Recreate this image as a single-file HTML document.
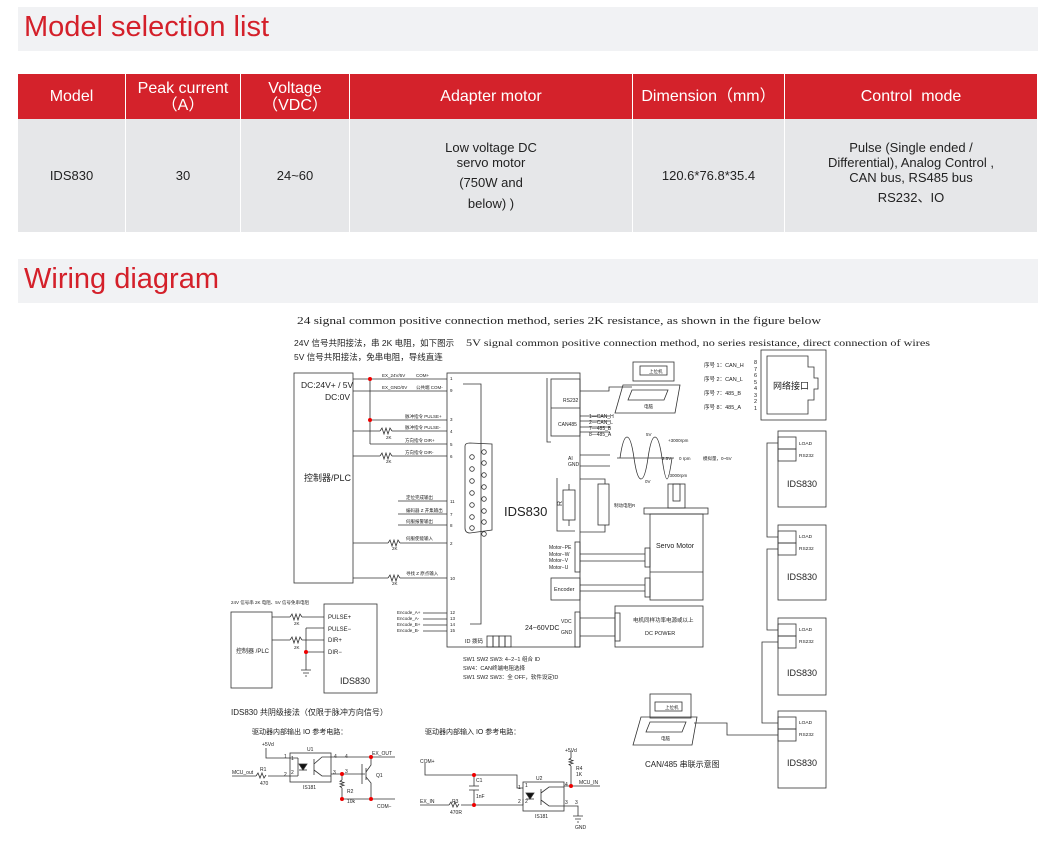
<!DOCTYPE html>
<html><head><meta charset="utf-8">
<style>
html,body{margin:0;padding:0;background:#fff;}
body{width:1050px;height:850px;overflow:hidden;position:relative;font-family:"Liberation Sans","Noto Sans CJK SC",sans-serif;}
.band{position:absolute;left:18px;width:1020px;height:44px;background:#f1f2f4;}
.band span{position:absolute;left:6px;top:4px;font-size:29px;color:#d4202a;}
table{position:absolute;left:18px;top:74px;border-collapse:collapse;width:1020px;}
th{background:#d4222b;color:#fff;font-weight:normal;font-size:16px;height:45px;border-right:1px solid #fff;line-height:17px;padding:0;}
td{background:#e6e7e9;font-size:13px;color:#222;height:113px;text-align:center;border-right:1px solid #fff;line-height:15px;padding:0;}
svg text{font-family:"Liberation Sans","Noto Sans CJK SC",sans-serif;fill:#222;}
</style></head><body>
<div class="band" style="top:7px"><span>Model selection list</span></div>
<table>
<tr><th style="width:107px">Model</th><th style="width:114px">Peak current<br>（A）</th><th style="width:108px">Voltage<br>（VDC）</th><th style="width:282px">Adapter motor</th><th style="width:151px">Dimension（mm）</th><th>Control&nbsp; mode</th></tr>
<tr><td>IDS830</td><td>30</td><td>24~60</td><td>Low voltage DC<br>servo motor<br><span style="line-height:26px">(750W and</span><br>below) )</td><td>120.6*76.8*35.4</td><td>Pulse (Single ended /<br>Differential), Analog Control ,<br>CAN bus, RS485 bus<br><span style="line-height:26px">RS232、IO</span></td></tr>
</table>
<div class="band" style="top:259px"><span>Wiring diagram</span></div>

<svg width="1050" height="850" style="position:absolute;left:0;top:0" fill="none" stroke="#333" stroke-width="0.8">
<g stroke="none">
<text x="297" y="324" font-size="10" textLength="524" lengthAdjust="spacingAndGlyphs" style="font-family:'Liberation Serif',serif">24 signal common positive connection method, series 2K resistance, as shown in the figure below</text>
<text x="294" y="346" font-size="8.5">24V 信号共阳接法，串 2K 电阻，如下图示</text>
<text x="294" y="360" font-size="8.5">5V 信号共阳接法，免串电阻，导线直连</text>
<text x="466" y="346" font-size="9.5" textLength="464" lengthAdjust="spacingAndGlyphs" style="font-family:'Liberation Serif',serif">5V signal common positive connection method, no series resistance, direct connection of wires</text>
</g>
<!-- controller -->
<rect x="294" y="373" width="59" height="210"/>
<g stroke="none" font-size="8.5"><text x="301" y="388">DC:24V+ / 5V</text><text x="325" y="400">DC:0V</text><text x="304" y="481" font-size="9">控制器/PLC</text></g>
<!-- main box -->
<rect x="447" y="373" width="133" height="274"/>
<g stroke="none"><text x="504" y="516" font-size="13">IDS830</text><text x="525" y="630" font-size="7">24~60VDC</text></g>
<path d="M353 379H447M353 391H447M370 420H447M353 431H380M392 431H447M370 444H447M353 456H380M392 456H447M398 501H447M398 514H447M398 525H447M353 543H388M400 543H447M353 578H388M400 578H447M370 379V444"/>
<path d="M380 431l2-3 2 6 2-6 2 6 2-6 2 3M380 456l2-3 2 6 2-6 2 6 2-6 2 3M388 543l2-3 2 6 2-6 2 6 2-6 2 3M388 578l2-3 2 6 2-6 2 6 2-6 2 3"/>
<g fill="#e00" stroke="none"><circle cx="370" cy="379" r="2"/><circle cx="370" cy="420" r="2"/></g>
<g stroke="none" font-size="4.5">
<text x="382" y="377">EX_24V/5V</text><text x="416" y="377">COM+</text><text x="382" y="389">EX_GND/0V</text><text x="416" y="389">公共端 COM-</text>
<text x="405" y="418">脉冲指令 PULSE+</text><text x="405" y="429">脉冲指令 PULSE-</text><text x="405" y="442">方向指令 DIR+</text><text x="405" y="454">方向指令 DIR-</text>
<text x="386" y="439">2K</text><text x="386" y="463">2K</text><text x="392" y="550">2K</text><text x="392" y="585">2K</text>
<text x="406" y="499">定位完成输出</text><text x="406" y="512">编码器 Z 开集输出</text><text x="406" y="523">伺服报警输出</text><text x="406" y="540">伺服使能输入</text><text x="406" y="575">寻找 Z 原点输入</text>
<text x="450" y="380">1</text><text x="450" y="392">9</text><text x="450" y="421">3</text><text x="450" y="433">4</text><text x="450" y="446">5</text><text x="450" y="458">6</text><text x="450" y="503">11</text><text x="450" y="516">7</text><text x="450" y="527">8</text><text x="450" y="545">2</text><text x="450" y="580">10</text>
<text x="450" y="614">12</text><text x="450" y="620">13</text><text x="450" y="626">14</text><text x="450" y="632">15</text>
<text x="397" y="614">Encode_A+</text><text x="397" y="620">Encode_A-</text><text x="397" y="626">Encode_B+</text><text x="397" y="632">Encode_B-</text>
</g>
<path d="M423 613H447M423 619H447M423 625H447M423 631H447M463 384H481V624H470"/>
<!-- DB connector -->
<path d="M465 446Q465 443 470 443L492 444V530L470 533Q465 533 465 528Z"/>
<g>
<circle cx="472" cy="457" r="2.3"/><circle cx="472" cy="469" r="2.3"/><circle cx="472" cy="481" r="2.3"/><circle cx="472" cy="493" r="2.3"/><circle cx="472" cy="505" r="2.3"/><circle cx="472" cy="517" r="2.3"/><circle cx="472" cy="528" r="2.3"/>
<circle cx="484" cy="452" r="2.3"/><circle cx="484" cy="463" r="2.3"/><circle cx="484" cy="475" r="2.3"/><circle cx="484" cy="487" r="2.3"/><circle cx="484" cy="499" r="2.3"/><circle cx="484" cy="511" r="2.3"/><circle cx="484" cy="522" r="2.3"/><circle cx="484" cy="534" r="2.3"/>
</g>
<!-- ID dip -->
<rect x="487" y="636" width="6" height="11"/><rect x="493" y="636" width="6" height="11"/><rect x="499" y="636" width="6" height="11"/><rect x="505" y="636" width="6" height="11"/>
<g stroke="none" font-size="5.5"><text x="465" y="643">ID 拨码</text></g>
<g stroke="none" font-size="5.5">
<text x="463" y="661">SW1  SW2  SW3: 4−2−1  组合 ID</text><text x="463" y="670">SW4：CAN终端电阻选择</text><text x="463" y="679">SW1 SW2 SW3：全 OFF，软件设定ID</text>
</g>
<!-- right panel -->
<rect x="551" y="379" width="29" height="57"/><line x1="551" y1="408" x2="580" y2="408"/>
<path d="M547 378V442H551"/>
<g stroke="none" font-size="5"><text x="563" y="402">RS232</text><text x="558" y="426">CAN485</text>
<text x="589" y="418">1—CAN_H</text><text x="589" y="424">2—CAN_L</text><text x="589" y="430">7—485_B</text><text x="589" y="436">8—485_A</text>
<text x="568" y="460">AI</text><text x="568" y="466">GND</text></g>
<path d="M580 416H610M580 421H610M580 427H610M580 432H610M580 455H610M580 466H610M580 391H609V387H632"/>
<!-- laptop 1 -->
<rect x="633" y="362" width="41" height="19"/><rect x="640" y="366" width="27" height="9"/>
<path d="M623 385H680L675 413H615Z"/><path d="M632 390H668L664 400H628Z"/>
<g stroke="none" font-size="4.5"><text x="649" y="373">上位机</text><text x="644" y="408">电脑</text></g>
<!-- 序号 -->
<g stroke="none" font-size="5.5"><text x="704" y="367">序号 1：CAN_H</text><text x="704" y="381">序号 2：CAN_L</text><text x="704" y="395">序号 7：485_B</text><text x="704" y="409">序号 8：485_A</text>
<text x="754" y="364">8</text><text x="754" y="371">7</text><text x="754" y="377">6</text><text x="754" y="384">5</text><text x="754" y="390">4</text><text x="754" y="397">3</text><text x="754" y="403">2</text><text x="754" y="410">1</text>
<text x="773" y="389" font-size="9">网络接口</text></g>
<rect x="761" y="350" width="65" height="70"/>
<path d="M767 356H808V367H814V378H818V389H814V400H808V414H767Z"/>
<!-- sine -->
<path d="M617 458H674M620 458C624 430 630 430 634 458S644 486 648 458 658 430 662 458 668 486 672 458"/>
<g stroke="none" font-size="4.5"><text x="646" y="436">5V</text><text x="668" y="442">+3000rpm</text><text x="662" y="460">2.5V</text><text x="679" y="460">0 rpm</text><text x="703" y="460">模拟量，0~5V</text><text x="668" y="477">-3000rpm</text><text x="645" y="483">0V</text></g>
<!-- resistors -->
<path d="M580 479H605V484M580 532H605V525M557 478V531H575"/>
<rect x="563" y="490" width="12" height="30"/><path d="M569 484V490M569 520V526"/>
<rect x="598" y="484" width="11" height="41"/>
<g stroke="none"><text x="560" y="508" font-size="7" transform="rotate(-90 560 506)">R</text><text x="614" y="507" font-size="4.5">制动电阻R</text></g>
<!-- motor -->
<rect x="668" y="484" width="17" height="24"/><rect x="673" y="484" width="7" height="17"/>
<rect x="644" y="508" width="64" height="6"/>
<rect x="650" y="514" width="53" height="86"/><line x1="650" y1="572" x2="703" y2="572"/>
<g stroke="none"><text x="656" y="548" font-size="7">Servo Motor</text></g>
<rect x="645" y="548" width="5" height="19"/><rect x="645" y="578" width="5" height="19"/>
<rect x="575" y="542" width="5" height="30"/>
<path d="M580 554H645M580 561H645M580 585H645M580 591H645"/>
<g stroke="none" font-size="5"><text x="549" y="549">Motor−PE</text><text x="549" y="556">Motor−W</text><text x="549" y="562">Motor−V</text><text x="549" y="569">Motor−U</text><text x="554" y="591" font-size="5.5">Encoder</text><text x="561" y="623">VDC</text><text x="561" y="634">GND</text></g>
<rect x="551" y="578" width="29" height="22"/>
<rect x="575" y="612" width="5" height="35"/>
<rect x="615" y="606" width="88" height="41"/><rect x="615" y="613" width="5" height="28"/>
<path d="M580 618H615M580 636H615"/>
<g stroke="none" font-size="5.5"><text x="633" y="622">电机同样功率电源或以上</text><text x="645" y="635">DC POWER</text></g>
<!-- chain boxes -->
<g>
<rect x="778" y="431" width="48" height="76"/><rect x="778" y="437" width="18" height="12"/><rect x="778" y="449" width="18" height="12"/>
<rect x="778" y="525" width="48" height="75"/><rect x="778" y="531" width="18" height="12"/><rect x="778" y="543" width="18" height="12"/>
<rect x="778" y="618" width="48" height="77"/><rect x="778" y="624" width="18" height="12"/><rect x="778" y="636" width="18" height="12"/>
<rect x="778" y="711" width="48" height="77"/><rect x="778" y="717" width="18" height="12"/><rect x="778" y="729" width="18" height="12"/>
</g>
<path d="M778 443H767V537H778M778 549H767V630H778M778 642H762V723H778"/>
<g stroke="none" font-size="4.8">
<text x="799" y="445">LOAD</text><text x="799" y="457">RS232</text><text x="799" y="538">LOAD</text><text x="799" y="550">RS232</text><text x="799" y="631">LOAD</text><text x="799" y="643">RS232</text><text x="799" y="724">LOAD</text><text x="799" y="736">RS232</text>
<text x="787" y="487" font-size="9">IDS830</text><text x="787" y="580" font-size="9">IDS830</text><text x="787" y="676" font-size="9">IDS830</text><text x="787" y="766" font-size="9">IDS830</text>
</g>
<!-- laptop 2 -->
<rect x="650" y="694" width="41" height="24"/><rect x="655" y="702" width="27" height="9"/>
<path d="M641 717H697L692 745H633Z"/><path d="M650 722H686L682 732H646Z"/>
<path d="M694 723H727V735H778"/>
<g stroke="none"><text x="665" y="709" font-size="4.5">上位机</text><text x="661" y="740" font-size="4.5">电脑</text><text x="645" y="767" font-size="8">CAN/485 串联示意图</text></g>
<!-- small wiring -->
<g stroke="none" font-size="4.5"><text x="231" y="604">24V 信号串 2K 电阻、5V 信号免串电阻</text></g>
<rect x="231" y="612" width="41" height="76"/><rect x="324" y="604" width="53" height="89"/>
<g stroke="none"><text x="236" y="653" font-size="6">控制器 /PLC</text><text x="340" y="684" font-size="9">IDS830</text>
<text x="328" y="619" font-size="6">PULSE+</text><text x="328" y="631" font-size="6">PULSE−</text><text x="328" y="642" font-size="6">DIR+</text><text x="328" y="654" font-size="6">DIR−</text>
<text x="294" y="625" font-size="4.5">2K</text><text x="294" y="649" font-size="4.5">2K</text></g>
<path d="M272 617H290M302 617H324M272 640H290M302 640H324M306 628H324M306 628V670M306 652H324M301 670H311M303 673H309M305 676H307"/>
<path d="M290 617l2-3 2 6 2-6 2 6 2-6 2 3M290 640l2-3 2 6 2-6 2 6 2-6 2 3"/>
<circle cx="306" cy="652" r="2" fill="#e00" stroke="none"/>
<!-- bottom texts -->
<g stroke="none"><text x="231" y="715" font-size="8">IDS830 共阴级接法（仅限于脉冲方向信号）</text>
<text x="252" y="734" font-size="7">驱动器内部输出 IO 参考电路：</text><text x="425" y="734" font-size="7">驱动器内部输入 IO 参考电路：</text></g>
<!-- output circuit -->
<rect x="290" y="753" width="41" height="29"/>
<path d="M266 748V758H298M232 776H256M268 776H298M256 776l2-3 2 5 2-5 2 5 2-3M298 758V776"/>
<path d="M299 764H307L303 770Z" fill="#111"/><path d="M299 770H307"/>
<path d="M314 759V775M314 764L322 757H331M314 770L322 776H331"/>
<path d="M331 757H371M331 774H342H362M342 774V780M342 788V799H371M342 780l-2 1.3 4 1.3-4 1.3 4 1.3-4 1.3 2 1.3M362 764V784M362 774H365M366 768V780M366 772L371 765V757M366 777L371 783V799M371 757H395M371 799H395"/>
<g fill="#e00" stroke="none"><circle cx="371" cy="757" r="2"/><circle cx="342" cy="774" r="2"/><circle cx="342" cy="799" r="2"/><circle cx="371" cy="799" r="2"/></g>
<g stroke="none" font-size="5"><text x="262" y="746">+5Vd</text><text x="307" y="751">U1</text><text x="284" y="758">1</text><text x="291" y="760">1</text><text x="334" y="758">4</text><text x="345" y="758">4</text><text x="284" y="776">2</text><text x="291" y="774">2</text><text x="333" y="774">3</text><text x="345" y="773">3</text>
<text x="232" y="774">MCU_out</text><text x="260" y="771">R1</text><text x="260" y="785">470</text><text x="303" y="789">IS181</text><text x="372" y="755">EX_OUT</text><text x="376" y="777">Q1</text><text x="347" y="793">R2</text><text x="347" y="803">10k</text><text x="377" y="808">COM−</text></g>
<!-- input circuit -->
<rect x="523" y="782" width="41" height="29"/>
<path d="M425 763V775H517V788H523M474 775V786M469 786H479M469 790H479M474 790V805M420 805H449M461 805H523M449 805l2-3 2 5 2-5 2 5 2-3M523 805V799"/>
<path d="M526 793H534L530 799Z" fill="#111"/><path d="M526 799H534"/>
<path d="M541 789V805M541 793L549 787H564M541 800L549 806H564"/>
<path d="M571 751V758M571 758l-2 1.3 4 1.3-4 1.3 4 1.3-4 1.3 2 1.3M571 766V786H564M571 786H600M564 806H578V816M573 816H583M575 819H581M577 822H579"/>
<g fill="#e00" stroke="none"><circle cx="474" cy="775" r="2"/><circle cx="474" cy="805" r="2"/><circle cx="571" cy="786" r="2"/></g>
<g stroke="none" font-size="5"><text x="420" y="763">COM+</text><text x="476" y="782">C1</text><text x="476" y="798">1nF</text><text x="420" y="803">EX_IN</text><text x="452" y="803">R3</text><text x="450" y="814">470R</text>
<text x="536" y="780">U2</text><text x="518" y="789">1</text><text x="525" y="787">1</text><text x="518" y="803">2</text><text x="525" y="803">2</text><text x="565" y="786">4</text><text x="565" y="804">3</text><text x="575" y="804">3</text>
<text x="565" y="752">+5Vd</text><text x="576" y="770">R4</text><text x="576" y="776">1K</text><text x="579" y="784">MCU_IN</text><text x="535" y="818">IS181</text><text x="575" y="829">GND</text></g>
</svg>
</body></html>
